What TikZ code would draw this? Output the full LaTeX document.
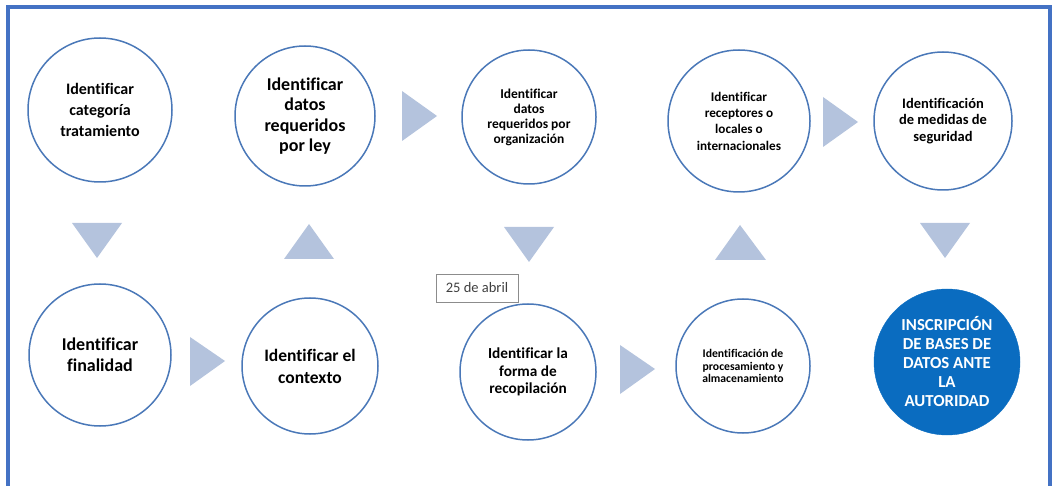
\documentclass[tikz,border=0pt]{standalone}
\usepackage{fontspec}
\setmainfont{Carlito}[Ligatures=NoCommon]
\definecolor{frameblue}{HTML}{4472C4}
\definecolor{cblue}{HTML}{4A78B8}
\definecolor{trifill}{HTML}{B4C3DD}
\definecolor{solidblue}{HTML}{0A6CC0}
\definecolor{datetext}{HTML}{404040}
\definecolor{dateborder}{HTML}{8C8C8C}
\begin{document}
\begin{tikzpicture}[x=1pt,y=-1pt,
  circ/.style={circle, draw=cblue, line width=1.5pt, fill=white, inner sep=0pt, align=center, font=\bfseries},
  solid/.style={circle, fill=solidblue, draw=solidblue, inner sep=0pt, align=center, text=white, font=\bfseries},
  tri/.style={fill=trifill},
  frame/.style={draw=frameblue, line width=4pt}]
\useasboundingbox (0,0) rectangle (1055,486);
\draw[frame] (8,486) -- (8,7) -- (1050,7) -- (1050,486);

% top row
\node[circ, minimum size=144pt, font=\bfseries\fontsize{16}{21}\selectfont] (c1) at (100,110) {Identificar\\categoría\\tratamiento};
\node[circ, minimum size=140pt, font=\bfseries\fontsize{18}{20.5}\selectfont] (c2) at (305,116) {Identificar\\datos\\requeridos\\por ley};
\node[circ, minimum size=134pt, font=\bfseries\fontsize{13.5}{15}\selectfont] (c3) at (529,117) {Identificar\\datos\\requeridos por\\organización};
\node[circ, minimum size=142pt, font=\bfseries\fontsize{13.2}{16.3}\selectfont] (c4) at (739,121) {Identificar\\receptores o\\locales o\\internacionales};
\node[circ, minimum size=138pt, font=\bfseries\fontsize{14.5}{16.5}\selectfont] (c5) at (943,121) {Identificación\\de medidas de\\seguridad};

% bottom row
\node[circ, minimum size=142pt, font=\bfseries\fontsize{18}{21.5}\selectfont] (c6) at (100,355) {Identificar\\finalidad};
\node[circ, minimum size=136pt, font=\bfseries\fontsize{17.5}{22}\selectfont] (c7) at (310,366) {Identificar el\\contexto};
\node[circ, minimum size=136pt, font=\bfseries\fontsize{15.3}{17.5}\selectfont] (c8) at (528,372) {Identificar la\\forma de\\recopilación};
\node[circ, minimum size=134pt, font=\bfseries\fontsize{11.7}{12.5}\selectfont] (c9) at (743,366) {Identificación de\\procesamiento y\\almacenamiento};
\node[solid, minimum size=146pt, font=\bfseries\fontsize{16.8}{19}\selectfont] (c10) at (947,362) {INSCRIPCIÓN\\DE BASES DE\\DATOS ANTE\\LA\\AUTORIDAD};

% triangles
\fill[tri] (72,223) -- (122,223) -- (97,258) -- cycle;
\fill[tri] (284,259) -- (334,259) -- (309,224) -- cycle;
\fill[tri] (504,227) -- (554,227) -- (529,262) -- cycle;
\fill[tri] (715,260) -- (766,260) -- (740,225) -- cycle;
\fill[tri] (920,223) -- (970,223) -- (945,258) -- cycle;
\fill[tri] (402,91) -- (402,141) -- (437,116) -- cycle;
\fill[tri] (823,97) -- (823,147) -- (858,122) -- cycle;
\fill[tri] (190,337) -- (190,386) -- (225,361) -- cycle;
\fill[tri] (620,345) -- (620,394) -- (655,369) -- cycle;

% date box
\node[draw=dateborder, line width=0.8pt, fill=white, text=datetext, minimum width=82pt, minimum height=28pt, inner sep=0pt, font=\fontsize{14.5}{16}\selectfont] (date) at (477,288) {25 de abril};
\end{tikzpicture}
\end{document}
